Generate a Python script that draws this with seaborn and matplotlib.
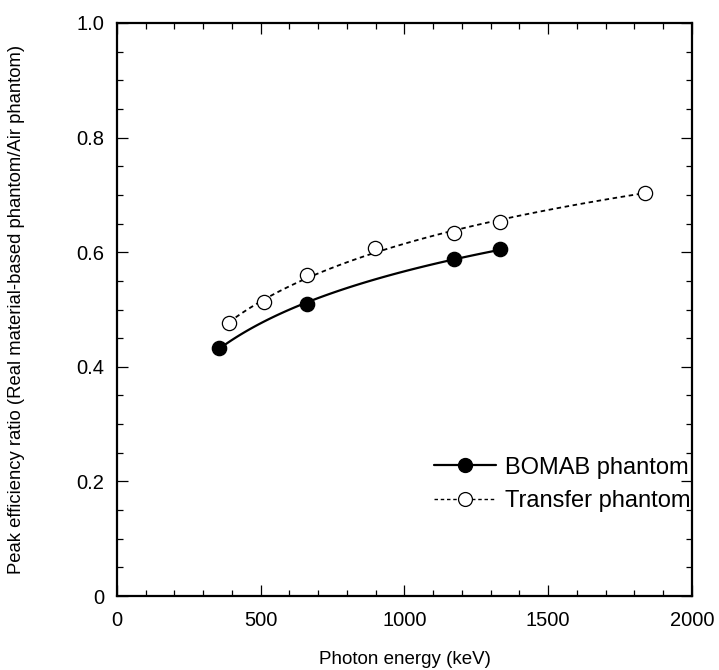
import matplotlib
matplotlib.use("Agg")
import matplotlib.pyplot as plt
from matplotlib.lines import Line2D
from matplotlib.ticker import MultipleLocator
import seaborn as sns
import pandas as pd

# Data
bomab_energy = [356, 662, 1173, 1332]
bomab_ratio = [0.433, 0.510, 0.588, 0.605]
transfer_energy = [390, 511, 662, 898, 1173, 1332, 1836]
transfer_ratio = [0.476, 0.513, 0.560, 0.608, 0.634, 0.653, 0.703]

labels = ["BOMAB phantom", "Transfer phantom"]
x_label = "Photon energy (keV)"
y_label = "Peak efficiency ratio (Real material-based phantom/Air phantom)"

sns.set_theme(style="ticks")
plt.rcParams["font.family"] = ["Liberation Sans", "DejaVu Sans"]
plt.rcParams["text.color"] = "black"
plt.rcParams["axes.labelcolor"] = "black"

bomab = pd.DataFrame({"E": bomab_energy, "R": bomab_ratio})
transfer = pd.DataFrame({"E": transfer_energy, "R": transfer_ratio})

fig = plt.figure(figsize=(7.19, 6.70), dpi=100)
ax = fig.add_axes([0.1627, 0.1104, 0.7997, 0.8553])

dash = (0, (2.5, 2.0))

# fitted curves
sns.regplot(data=bomab, x="E", y="R", logx=True, ci=None, scatter=False, ax=ax,
            line_kws=dict(color="black", lw=1.6, ls="-", zorder=2))
sns.regplot(data=transfer, x="E", y="R", logx=True, ci=None, scatter=False, ax=ax,
            line_kws=dict(color="black", lw=1.3, ls=dash, zorder=2))

# markers
sns.scatterplot(data=bomab, x="E", y="R", ax=ax, marker="o", s=105,
                color="black", edgecolor="black", linewidth=1.0, zorder=3)
sns.scatterplot(data=transfer, x="E", y="R", ax=ax, marker="o", s=105,
                facecolor="white", edgecolor="black", linewidth=0.9, zorder=3)

ax.set_xlim(0, 2000)
ax.set_ylim(0, 1.0)
ax.xaxis.set_major_locator(MultipleLocator(500))
ax.xaxis.set_minor_locator(MultipleLocator(100))
ax.yaxis.set_major_locator(MultipleLocator(0.2))
ax.yaxis.set_minor_locator(MultipleLocator(0.05))
ax.set_xticks([0, 500, 1000, 1500, 2000])
ax.set_xticklabels(["0", "500", "1000", "1500", "2000"])
ax.set_yticks([0, 0.2, 0.4, 0.6, 0.8, 1.0])
ax.set_yticklabels(["0", "0.2", "0.4", "0.6", "0.8", "1.0"])

ax.tick_params(which="both", direction="in", top=True, right=True,
               colors="black", labelsize=14.5, width=0.9)
ax.tick_params(which="major", length=8)
ax.tick_params(axis="x", which="major", pad=11)
ax.tick_params(axis="y", which="major", pad=9)
ax.tick_params(which="minor", length=4.5)
for sp in ax.spines.values():
    sp.set_linewidth(1.6)
    sp.set_color("black")

ax.set_xlabel(x_label, fontsize=13.5, labelpad=15)
ax.set_ylabel(y_label, fontsize=13.3, labelpad=37)

handles = [
    Line2D([], [], color="black", lw=1.6, ls="-", marker="o", markersize=10,
           markerfacecolor="black", markeredgecolor="black"),
    Line2D([], [], color="black", lw=1.0, ls=dash, marker="o", markersize=10,
           markerfacecolor="white", markeredgecolor="black", markeredgewidth=0.9),
]
ax.legend(handles, labels, loc="lower right", bbox_to_anchor=(0.997, 0.146),
          frameon=False, fontsize=17, handlelength=2.6, handletextpad=0.38,
          labelspacing=0.5, borderaxespad=0, borderpad=0, labelcolor="black")

fig.savefig("out.png", dpi=100)
